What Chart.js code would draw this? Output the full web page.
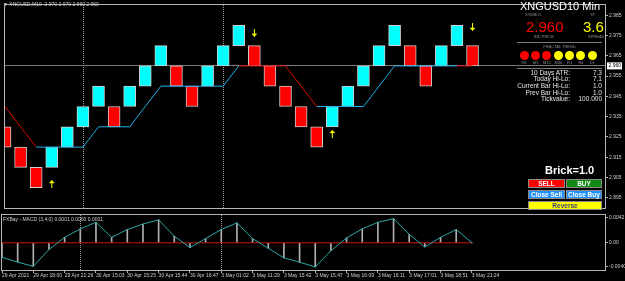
<!DOCTYPE html>
<html>
<head>
<meta charset="utf-8">
<title>XNGUSD M10 Renko</title>
<script src="https://cdn.jsdelivr.net/npm/chart.js@4.4.1/dist/chart.umd.min.js"></script>
<style>
  html, body { margin: 0; padding: 0; background: #000; overflow: hidden; }
  #wrap { position: relative; width: 625px; height: 281px; font-family: "Liberation Sans", Arial, sans-serif; color: #fff; }
  canvas { position: absolute; left: 0; }
  #main { top: 0; }
  #macd { top: 213px; }
  .t { position: absolute; white-space: nowrap; line-height: 1; }
  .tiny { font-size: 4px; color: #8c8c8c; }
  .row { font-size: 6.5px; color: #e6e6e6; }
  .hr { position: absolute; left: 517px; width: 85px; height: 1px; background: #7a7a7a; }
  .dot { position: absolute; width: 9px; height: 9px; border-radius: 50%; top: 50.5px; }
  .btn { position: absolute; height: 9px; box-sizing: border-box; border: 1px solid #8a8a8a; font-weight: bold; font-size: 6.5px; line-height: 7px; text-align: center; color: #fff; }
</style>
</head>
<body>
<div id="wrap">
  <canvas id="main" width="625" height="213"></canvas>
  <canvas id="macd" width="625" height="68"></canvas>

  <div class="t" style="left:3px;top:2px;font-size:5px;color:#d0d0d0;">&#9660; XNGUSD,M10&nbsp; 2.970 2.970 2.960 2.960</div>
  <div class="t" style="left:3px;top:217px;font-size:5px;color:#d0d0d0;">FXBay - MACD (3,4,0) 0.0001 0.0000 0.0001</div>

  <!-- info panel -->
  <div class="t" style="right:25px;top:1px;font-size:11px;">XNGUSD10 Min</div>
  <div class="t tiny" style="left:525px;top:13px;">SYMBOL</div>
  <div class="t tiny" style="left:590px;top:13px;">TF</div>
  <div class="t" style="left:526px;top:19px;font-size:15px;color:#ff0000;">2.960</div>
  <div class="t" style="left:583px;top:19px;font-size:15px;color:#ffff00;">3.6</div>
  <div class="t tiny" style="left:534px;top:34.5px;">BID PRICE</div>
  <div class="t tiny" style="left:588px;top:34.5px;">SPREAD</div>
  <div class="hr" style="top:42px;"></div>
  <div class="t tiny" style="left:517px;width:85px;text-align:center;top:44.5px;">FRACTAL TREND</div>
  <div id="dots"></div>
  <div class="hr" style="top:68px;"></div>
  <div id="stats"></div>
  <div class="t" style="left:545px;top:165px;font-size:11px;font-weight:bold;">Brick=1.0</div>
  <div class="btn" style="left:528px;top:179px;width:37px;background:#ff0000;">SELL</div>
  <div class="btn" style="left:566px;top:179px;width:36px;background:#118811;">BUY</div>
  <div class="btn" style="left:528px;top:190px;width:37px;background:#1e90ff;">Close Sell</div>
  <div class="btn" style="left:566px;top:190px;width:36px;background:#1e90ff;">Close Buy</div>
  <div class="btn" style="left:528px;top:201px;width:74px;background:#ffff00;color:#3c3c78;">Reverse</div>
</div>

<script>
// renko bricks, one per slot
const brickOpen  = [2.930, 2.920, 2.910, 2.910, 2.920, 2.930, 2.940, 2.940, 2.940, 2.950, 2.960, 2.960, 2.950, 2.950, 2.960, 2.970,
                    2.970, 2.960, 2.950, 2.940, 2.930, 2.930, 2.940, 2.950, 2.960, 2.970, 2.970, 2.960, 2.960, 2.970, 2.970];
const brickClose = [2.920, 2.910, 2.900, 2.920, 2.930, 2.940, 2.950, 2.930, 2.950, 2.960, 2.970, 2.950, 2.940, 2.960, 2.970, 2.980,
                    2.960, 2.950, 2.940, 2.930, 2.920, 2.940, 2.950, 2.960, 2.970, 2.980, 2.960, 2.950, 2.970, 2.980, 2.960];

// trailing stop line, split by trend
const trailUp   = [null, null, 2.920, 2.920, 2.920, 2.920, 2.930, 2.930, 2.930, 2.940, 2.950, 2.950, 2.950, 2.950, 2.950, 2.960,
                   null, null, null, null, 2.940, 2.940, 2.940, 2.940, 2.950, 2.960, 2.960, 2.960, 2.960, 2.960, null];
const trailDown = [2.940, 2.930, 2.920, null, null, null, null, null, null, null, null, null, null, null, null, 2.960,
                   2.960, 2.960, 2.960, 2.950, 2.940, null, null, null, null, null, null, null, null, 2.960, 2.960];

// signal arrows (slot, price)
const upArrowAt    = [3, 21];
const upArrowPx    = [2.9017, 2.9264];
const downArrowAt  = [16, 30];
const downArrowPx  = [2.9764, 2.9793];

// MACD (3,4,0)
const macdMain = [-0.0024, -0.0032, -0.0039, -0.0011, 0.0009, 0.0023, 0.0034, 0.0009, 0.0022, 0.0031, 0.0038, 0.0011, -0.0008, 0.0007, 0.0022, 0.0033,
                  0.0007, -0.0009, -0.0025, -0.0032, -0.0040, -0.0013, 0.0008, 0.0023, 0.0034, 0.0040, 0.0014, -0.0007, 0.0009, 0.0022, 0.0000];
const macdSignal = [0, 0, 0, 0, 0, 0, 0, 0, 0, 0, 0, 0, 0, 0, 0, 0, 0, 0, 0, 0, 0, 0, 0, 0, 0, 0, 0, 0, 0, 0, 0];

// axes
const priceTicks = [2.985, 2.975, 2.965, 2.955, 2.945, 2.935, 2.925, 2.915, 2.905, 2.895];
const macdTicks = [0.0042, 0, -0.0040];
const timeLabels = ['29 Apr 2021', '29 Apr 18:00', '29 Apr 21:26', '30 Apr 15:03', '30 Apr 15:25', '30 Apr 15:44', '30 Apr 16:47', '3 May 01:02',
                    '3 May 11:29', '3 May 15:42', '3 May 15:47', '3 May 16:09', '3 May 16:11', '3 May 17:01', '3 May 18:51', '3 May 21:24'];
const daySeparators = [5, 14];
const lastPrice = 2.960;

// panel
const trendFrames = ['M1', 'M5', 'M15', 'M30', 'H1', 'H4', 'D1'];
const trendState = ['down', 'down', 'down', 'up', 'up', 'up', 'up'];
const statLabels = ['10 Days ATR:', 'Today Hi-Lo:', 'Current Bar Hi-Lo:', 'Prev Bar Hi-Lo:', 'Tickvalue:'];
const statValues = ['7.3', '7.1', '1.0', '1.0', '100.000'];

const UP = '#00ffff', DOWN = '#ff0000';
const axisFont = { family: '"Liberation Sans", Arial, sans-serif', size: 5 };
const axisColor = '#d0d0d0';

const dotsEl = document.getElementById('dots');
trendFrames.forEach((tf, k) => {
  const cx = 524.3 + k * 11.33;
  dotsEl.insertAdjacentHTML('beforeend',
    `<div class="dot" style="left:${cx - 4.5}px;background:${trendState[k] === 'up' ? '#ffff00' : '#ff0000'}"></div>` +
    `<div class="t tiny" style="left:${cx - 6}px;width:12px;text-align:center;top:60.5px;">${tf}</div>`);
});
const statsEl = document.getElementById('stats');
statLabels.forEach((lab, k) => {
  const top = 69.5 + k * 6.7;
  statsEl.insertAdjacentHTML('beforeend',
    `<div class="t row" style="right:55px;top:${top}px;">${lab}</div>` +
    `<div class="t row" style="right:23px;top:${top}px;">${statValues[k]}</div>`);
});

const makeArrow = up => {
  const c = document.createElement('canvas');
  c.width = 7; c.height = 8;
  const g = c.getContext('2d');
  g.fillStyle = '#ffff00';
  g.fillRect(3, 0, 1, 8);
  if (up) { g.fillRect(2, 1, 3, 1); g.fillRect(1, 2, 5, 1); }
  else { g.fillRect(2, 6, 3, 1); g.fillRect(1, 5, 5, 1); }
  return c;
};

const xy = arr => arr.map((v, i) => ({ x: i, y: v }));

const frame = {
  id: 'frame',
  beforeDatasetsDraw(chart) {
    const { ctx, chartArea: a, scales: { x } } = chart;
    ctx.save();
    ctx.strokeStyle = '#9a9a9a';
    ctx.lineWidth = 1;
    ctx.setLineDash([1, 1]);
    daySeparators.forEach(i => {
      const px = Math.round(x.getPixelForValue(i)) + 0.5;
      ctx.beginPath(); ctx.moveTo(px, a.top); ctx.lineTo(px, a.bottom); ctx.stroke();
    });
    ctx.restore();
  },
  afterDraw(chart) {
    const { ctx, chartArea: a } = chart;
    ctx.save();
    ctx.strokeStyle = '#b4b4b4';
    ctx.lineWidth = 1;
    ctx.strokeRect(Math.round(a.left) - 0.5, Math.round(a.top) - 0.5, Math.round(a.right - a.left) + 1, Math.round(a.bottom - a.top) + 1);
    ctx.restore();
  }
};

const priceLine = {
  id: 'priceLine',
  beforeDatasetsDraw(chart) {
    const { ctx, chartArea: a, scales: { y } } = chart;
    const py = Math.floor(y.getPixelForValue(lastPrice)) + 0.5;
    ctx.save();
    ctx.strokeStyle = '#7c7c7c';
    ctx.lineWidth = 1;
    ctx.beginPath(); ctx.moveTo(a.left, py); ctx.lineTo(a.right, py); ctx.stroke();
    ctx.restore();
  },
  afterDraw(chart) {
    const { ctx, chartArea: a, scales: { y } } = chart;
    const py = y.getPixelForValue(lastPrice);
    ctx.save();
    ctx.fillStyle = '#ffffff';
    ctx.fillRect(a.right + 2, py - 3.5, 15, 7);
    ctx.fillStyle = '#000000';
    ctx.font = '5px "Liberation Sans", Arial, sans-serif';
    ctx.textBaseline = 'middle';
    ctx.fillText(lastPrice.toFixed(3), a.right + 3.5, py);
    ctx.restore();
  }
};

const common = {
  responsive: false,
  animation: false,
  devicePixelRatio: 1,
  events: [],
  plugins: { legend: { display: false }, tooltip: { enabled: false } }
};

const xRange = { type: 'linear', min: 0, max: 38.5, bounds: 'data', offset: false };

new Chart(document.getElementById('main'), {
  type: 'bar',
  data: {
    datasets: [
      { type: 'line', data: downArrowAt.map((x, k) => ({ x, y: downArrowPx[k] })), showLine: false, pointStyle: makeArrow(false), pointRadius: 4 },
      { type: 'line', data: upArrowAt.map((x, k) => ({ x, y: upArrowPx[k] })), showLine: false, pointStyle: makeArrow(true), pointRadius: 4 },
      { type: 'line', data: xy(trailUp), borderColor: '#1fb0e8', borderWidth: 1, pointRadius: 0, spanGaps: false },
      { type: 'line', data: xy(trailDown), borderColor: '#e00000', borderWidth: 1, pointRadius: 0, spanGaps: false },
      {
        data: brickOpen.map((o, i) => ({ x: i, y: [o, brickClose[i]] })),
        backgroundColor: brickOpen.map((o, i) => brickClose[i] > o ? UP : DOWN),
        borderColor: '#cfcfcf',
        borderWidth: 1,
        borderSkipped: false,
        barThickness: 12
      }
    ]
  },
  options: {
    ...common,
    layout: { padding: { left: 2, top: 2, right: 0, bottom: 1 } },
    scales: {
      x: { ...xRange, display: false, grid: { offset: false } },
      y: {
        type: 'linear', position: 'right', min: 2.89, max: 2.99, bounds: 'data',
        afterBuildTicks: s => { s.ticks = priceTicks.map(v => ({ value: v })); },
        afterFit: s => { s.width = 20; s.paddingTop = 0; s.paddingBottom = 0; },
        ticks: { callback: v => v.toFixed(3), font: axisFont, color: axisColor, padding: 1 },
        grid: { drawOnChartArea: false, tickLength: 3, color: '#b4b4b4' },
        border: { display: false }
      }
    }
  },
  plugins: [frame, priceLine]
});

new Chart(document.getElementById('macd'), {
  type: 'bar',
  data: {
    datasets: [
      { type: 'line', data: xy(macdMain), borderColor: '#2aa8a8', borderWidth: 1, pointRadius: 0 },
      { type: 'line', data: xy(macdSignal), borderColor: '#c81414', borderWidth: 1, pointRadius: 0 },
      { data: xy(macdMain), backgroundColor: '#b0b0b0', borderWidth: 0, barThickness: 1 }
    ]
  },
  options: {
    ...common,
    layout: { padding: { left: 2, top: 2, right: 0, bottom: 0 } },
    scales: {
      x: {
        ...xRange, position: 'bottom',
        afterBuildTicks: s => { s.ticks = timeLabels.map((_, k) => ({ value: k * 2 })); },
        afterFit: s => { s.height = 11; s.paddingLeft = 0; s.paddingRight = 0; },
        ticks: { callback: v => timeLabels[v / 2], autoSkip: false, maxRotation: 0, minRotation: 0, align: 'start', font: axisFont, color: axisColor, padding: 0 },
        grid: { drawOnChartArea: false, tickLength: 3, color: '#b4b4b4', offset: false },
        border: { display: false }
      },
      y: {
        type: 'linear', position: 'right', min: -0.0045, max: 0.0046, bounds: 'data',
        afterBuildTicks: s => { s.ticks = macdTicks.map(v => ({ value: v })); },
        afterFit: s => { s.width = 20; s.paddingTop = 0; s.paddingBottom = 0; },
        ticks: { callback: v => v === 0 ? '0.00' : v.toFixed(4), font: axisFont, color: axisColor, padding: 1 },
        grid: { drawOnChartArea: false, tickLength: 3, color: '#b4b4b4' },
        border: { display: false }
      }
    }
  },
  plugins: [frame]
});
</script>
</body>
</html>
